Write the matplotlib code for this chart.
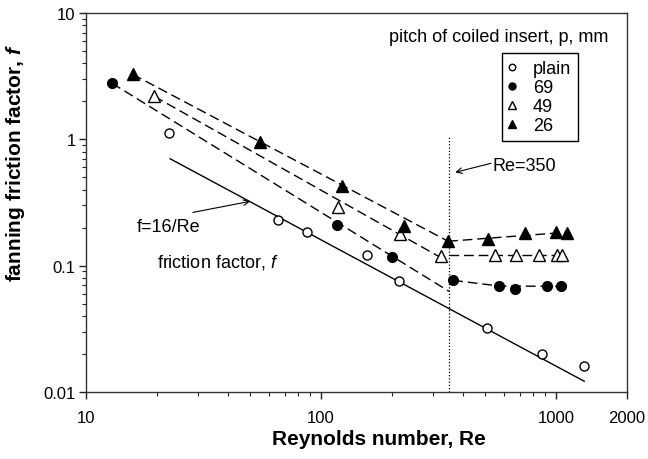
import matplotlib
matplotlib.use("Agg")
import matplotlib.pyplot as plt
from matplotlib.lines import Line2D
from matplotlib.ticker import FixedLocator, NullFormatter, LogLocator

plt.rcParams['font.family'] = ['Liberation Sans', 'DejaVu Sans']
plt.rcParams['mathtext.fontset'] = 'custom'
plt.rcParams['mathtext.rm'] = 'Liberation Sans'
plt.rcParams['mathtext.it'] = 'Liberation Sans:italic'
plt.rcParams['mathtext.bf'] = 'Liberation Sans:bold'
try:
    plt.rcParams['mathtext.bfit'] = 'Liberation Sans:bold:italic'
except KeyError:
    pass

# ---- data ----
re_plain = [22.6, 65.6, 87, 157, 215, 508, 871, 1315]
f_plain = [1.12, 0.229, 0.184, 0.121, 0.075, 0.0319, 0.0199, 0.0160]

re_69 = [12.9, 117, 200, 365, 572, 670, 916, 1050]
f_69 = [2.78, 0.209, 0.117, 0.0765, 0.0686, 0.0649, 0.0686, 0.0686]

re_49 = [19.5, 118, 217, 324, 550, 676, 847, 1009, 1061]
f_49 = [2.19, 0.290, 0.177, 0.119, 0.121, 0.121, 0.121, 0.121, 0.121]

re_26 = [15.8, 55, 123, 225, 347, 514, 738, 1000, 1114]
f_26 = [3.27, 0.96, 0.425, 0.205, 0.156, 0.162, 0.180, 0.184, 0.182]

# laminar line f = 16/Re
re_lam = [22.8, 1315]

# dashed correlation lines
fit_69_low_re, fit_69_low_f = [12.9, 350], [2.78, 0.0626]
fit_69_high_re, fit_69_high_f = [365, 572, 1050], [0.0765, 0.0690, 0.0686]
fit_49_low_re, fit_49_low_f = [19.5, 320], [2.19, 0.117]
fit_49_high_re, fit_49_high_f = [350, 1061], [0.121, 0.121]
fit_26_low_re, fit_26_low_f = [15.8, 347], [3.27, 0.156]
fit_26_high_re, fit_26_high_f = [347, 1114], [0.156, 0.184]

re_crit = 350
crit_f_range = [0.01, 1.05]

x_ticks = [10, 100, 1000, 2000]
x_ticklabels = ['10', '100', '1000', '2000']
y_ticks = [0.01, 0.1, 1, 10]
y_ticklabels = ['0.01', '0.1', '1', '10']

legend_labels = ['plain', '69', '49', '26']

# ---- figure ----
fig = plt.figure(figsize=(6.48, 4.60), dpi=100)
ax = fig.add_axes([86/648, 1-393/460, 541/648, 379/460])
ax.set_xscale('log')
ax.set_yscale('log')
ax.set_xlim(10, 2000)
ax.set_ylim(0.01, 10)

dash = (0, (7, 3.5))
lw = 1.0
for xr, yf in [(fit_69_low_re, fit_69_low_f), (fit_69_high_re, fit_69_high_f),
               (fit_49_low_re, fit_49_low_f), (fit_49_high_re, fit_49_high_f),
               (fit_26_low_re, fit_26_low_f), (fit_26_high_re, fit_26_high_f)]:
    ax.plot(xr, yf, color='black', lw=lw, linestyle=dash, zorder=2)

ax.plot(re_lam, [16/r for r in re_lam], color='black', lw=lw, zorder=2)
ax.plot([re_crit, re_crit], crit_f_range, color='black', lw=0.9,
        linestyle=(0, (1, 1.6)), zorder=1)

ms_c = 6.5
ms_t = 8
ax.plot(re_plain, f_plain, 'o', ms=ms_c, mfc='white', mec='black', mew=1.0, zorder=3)
ax.plot(re_69, f_69, 'o', ms=ms_c+0.5, mfc='black', mec='black', zorder=3)
ax.plot(re_49, f_49, '^', ms=ms_t, mfc='white', mec='black', mew=1.0, zorder=3)
ax.plot(re_26, f_26, '^', ms=ms_t, mfc='black', mec='black', zorder=3)

# legend
handles = [
    Line2D([], [], ls='none', marker='o', ms=ms_c, mfc='white', mec='black', mew=1.0),
    Line2D([], [], ls='none', marker='o', ms=ms_c+0.5, mfc='black', mec='black'),
    Line2D([], [], ls='none', marker='^', ms=ms_t, mfc='white', mec='black', mew=1.0),
    Line2D([], [], ls='none', marker='^', ms=ms_t, mfc='black', mec='black'),
]
leg = ax.legend(handles, legend_labels, loc='upper left',
                bbox_to_anchor=(0.769, 0.8945), fontsize=13, markerscale=0.72,
                frameon=True, fancybox=False, edgecolor='black', framealpha=1,
                borderpad=0.4, labelspacing=0.11, handlelength=0.3,
                handletextpad=1.0, borderaxespad=0)
leg.get_frame().set_linewidth(1.0)

# annotations
fs = 13
ax.text(194, 6.54, 'pitch of coiled insert, p, mm', fontsize=fs, ha='left', va='center')
ax.text(537, 0.622, 'Re=350', fontsize=fs, ha='left', va='center')
ax.annotate('', xy=(372, 0.548), xytext=(528, 0.646),
            arrowprops=dict(arrowstyle='->', lw=0.8, color='black',
                            shrinkA=0, shrinkB=0, mutation_scale=10))
ax.text(16.5, 0.205, 'f=16/Re', fontsize=fs, ha='left', va='center')
ax.annotate('', xy=(49.9, 0.323), xytext=(28.5, 0.264),
            arrowprops=dict(arrowstyle='->', lw=0.8, color='black',
                            shrinkA=0, shrinkB=0, mutation_scale=10))
ax.text(20.0, 0.108, 'friction factor, $\\mathit{f}$', fontsize=fs, ha='left', va='center')

# axes styling
ax.xaxis.set_major_locator(FixedLocator(x_ticks))
ax.set_xticklabels(x_ticklabels)
ax.xaxis.set_minor_locator(LogLocator(base=10, subs=range(2, 10)))
ax.xaxis.set_minor_formatter(NullFormatter())
ax.yaxis.set_major_locator(FixedLocator(y_ticks))
ax.set_yticklabels(y_ticklabels)
ax.yaxis.set_minor_locator(LogLocator(base=10, subs=range(2, 10)))
ax.yaxis.set_minor_formatter(NullFormatter())
ax.tick_params(which='major', direction='out', length=5, width=1, labelsize=12,
               color='#222222')
ax.tick_params(axis='x', which='major', pad=8)
ax.tick_params(axis='y', which='major', pad=2.5)
ax.tick_params(which='minor', direction='out', length=3, width=0.8, color='#222222')
for s in ax.spines.values():
    s.set_color('#333333')
    s.set_linewidth(1.0)

ax.set_xlabel('Reynolds number, Re', fontsize=15, fontweight='bold')
try:
    ylab = 'fanning friction factor, $\\mathbfit{f}$'
    ax.set_ylabel(ylab, fontsize=15, fontweight='bold')
    fig.canvas.draw()
except Exception:
    ax.set_ylabel('fanning friction factor, f', fontsize=15, fontweight='bold')
ax.xaxis.set_label_coords(0.542, -0.097)
ax.yaxis.set_label_coords(-0.109, 0.607)

fig.savefig('out.png', dpi=100)
